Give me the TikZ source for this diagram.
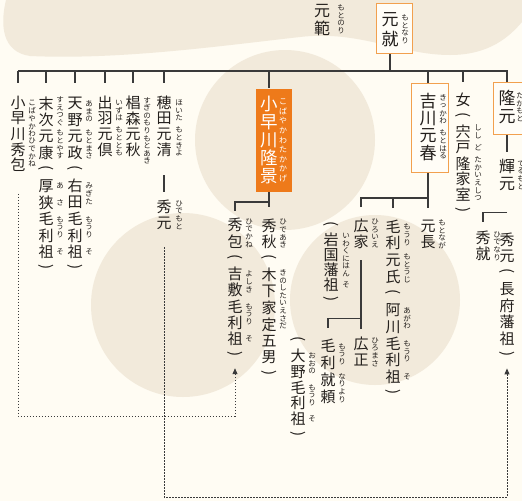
\documentclass[tikz,border=0pt]{standalone}
\usepackage{fontspec}
\setmainfont{Noto Sans CJK JP}
\usepackage{graphicx}
\usetikzlibrary{arrows.meta}
\definecolor{cream}{HTML}{FFFCF3}
\definecolor{beige}{HTML}{F2EADB}
\definecolor{lnc}{HTML}{3A3A3A}
\definecolor{ink}{HTML}{231F1C}
\definecolor{orng}{HTML}{EE7A1A}
\definecolor{obord}{HTML}{F2A04E}
\definecolor{boxbg}{HTML}{FFFDF7}
\newdimen\vtp
\def\vtstop{\vtstop}
\def\vtbox#1{\vbox to\vtp{\vss\hbox to 1em{\hss#1\hss}\vss}}
\def\vtparen#1{\vbox to\vtp{\vss\hbox to 1em{\hss\rotatebox[origin=c]{-90}{#1}\hss}\vss}}
\def\vtloop#1{%
  \ifx#1\vtstop\else
    \ifx#1(\vtparen{(}\else
    \ifx#1)\vtparen{)}\else
      \vtbox{#1}%
    \fi\fi
    \expandafter\vtloop
  \fi}
\newcommand\vt[2]{\vbox{\offinterlineskip\vtp=#1pt\relax\vtloop#2\vtstop}}
\newcommand\rb[4]{\node[rb] (#1) at (#2,#3) {\vt{7.6}{#4}};}
\begin{document}
\begin{tikzpicture}[x=1pt,y=-1pt,
  ln/.style={draw=lnc, line width=1.1pt},
  thick ln/.style={draw=lnc, line width=1.7pt},
  adopt/.style={draw=lnc, line width=0.75pt, double=#1, double distance=1.2pt},
  dotl/.style={draw=lnc, line width=0.9pt, dash pattern=on 1.4pt off 1.6pt},
  nm/.style={inner sep=0pt, text=ink, anchor=north, font=\fontsize{15}{15}\selectfont},
  big/.style={nm, font=\fontsize{17}{17}\selectfont},
  rb/.style={inner sep=0pt, text=ink, font=\fontsize{7.5}{7.5}\selectfont},
  obox/.style={draw=obord, line width=1.3pt, fill=boxbg, anchor=north west, inner sep=0pt},
  tip/.style={-{Triangle[width=5pt,length=6pt]}}
]
\useasboundingbox (0,0) rectangle (522,501);
\clip (0,0) rectangle (522,501);
% background
\fill[cream] (0,0) rectangle (522,501);
\fill[beige] (6,0) .. controls (0,25) and (2,52) .. (30,56) .. controls (120,60) and (220,46) .. (300,37) .. controls (360,30) and (400,55) .. (450,55) .. controls (490,55) and (510,36) .. (522,22) -- (522,0) -- cycle;
\fill[beige] (285,140) circle[radius=90pt];
\fill[beige] (183,305) circle[radius=92pt];
\fill[beige] (375,300) circle[radius=85pt];

% top
\node[nm, font=\fontsize{16}{16}\selectfont] (motonori) at (322,3) {\vt{16.5}{元範}};
\rb{motonoriR}{341}{3+16.5}{もとのり}
\node[obox, minimum width=36pt, minimum height=50pt] (motonari) at (376,3) {};
\node[big] (motonariT) at (390,10) {\vt{19}{元就}};
\rb{motonariR}{405}{10+19}{もとなり}

% left group
\node[nm] (kobayashi) at (18,95) {\vt{15.5}{小早川秀包}};
\rb{kobayashiR}{32}{95+15.5*2.5}{こばやかわひでかね}
\node[nm] (motoyasu) at (46,95) {\vt{16.5}{末次元康(厚狭毛利祖)}};
\rb{motoyasuR1}{60}{95+16.5*1}{すえつぐ}
\rb{motoyasuR2}{60}{95+16.5*3}{もとやす}
\rb{motoyasuR3}{60}{95+16.5*5.5}{あ}
\rb{motoyasuR4}{60}{95+16.5*6.5}{さ}
\rb{motoyasuR5}{60}{95+16.5*8}{もうり}
\rb{motoyasuR6}{60}{95+16.5*9.5}{そ}
\node[nm] (motomasa) at (75,95) {\vt{16.5}{天野元政(右田毛利祖)}};
\rb{motomasaR1}{89}{95+16.5*1}{あまの}
\rb{motomasaR2}{89}{95+16.5*3}{もとまさ}
\rb{motomasaR3}{89}{95+16.5*6}{みぎた}
\rb{motomasaR4}{89}{95+16.5*8}{もうり}
\rb{motomasaR5}{89}{95+16.5*9.5}{そ}
\node[nm] (izuha) at (105,95) {\vt{15.5}{出羽元倶}};
\rb{izuhaR1}{119}{95+15.5*1}{いずは}
\rb{izuhaR2}{119}{95+15.5*3}{もととも}
\node[nm] (sugimori) at (133,95) {\vt{15.5}{椙森元秋}};
\rb{sugimoriR}{147}{95+15.5*2.3}{すぎのもりもとあき}
\node[nm] (hota) at (164,95) {\vt{15.5}{穂田元清}};
\rb{hotaR1}{179}{95+15.5*1}{ほいた}
\rb{hotaR2}{179}{95+15.5*3}{もときよ}
\node[nm] (hidemoto) at (164,199) {\vt{16}{秀元}};
\rb{hidemotoR}{179}{199+16}{ひでもと}

% Kobayakawa Takakage
\node[obox, draw=none, fill=orng, minimum width=36pt, minimum height=103pt] (takakage) at (255,88) {};
\node[nm, text=white, font=\fontsize{17.5}{17.5}\selectfont] (takakageT) at (269,95) {\vt{18}{小早川隆景}};
\node[rb, text=white, font=\fontsize{8}{8}\selectfont] (takakageR) at (283,95+18*2.5) {\vt{9.6}{こばやかわたかかげ}};
\node[nm] (hideaki) at (269,217) {\vt{16.5}{秀秋(木下家定五男)}};
\rb{hideakiR1}{283}{217+16.5*1}{ひであき}
\rb{hideakiR2}{283}{217+16.5*5}{きのしたいえさだ}
\node[nm] (hidekane) at (235,217) {\vt{16.2}{秀包(吉敷毛利祖)}};
\rb{hidekaneR1}{249}{217+16.2*1}{ひでかね}
\rb{hidekaneR2}{249}{217+16.2*4}{よしき}
\rb{hidekaneR3}{249}{217+16.2*6}{もうり}
\rb{hidekaneR4}{249}{217+16.2*7.5}{そ}

% Kikkawa
\node[obox, minimum width=37pt, minimum height=89pt] (kikkawa) at (411,83) {};
\node[big] (kikkawaT) at (428,92) {\vt{17.5}{吉川元春}};
\rb{kikkawaR1}{443}{92+17.5*1}{きっかわ}
\rb{kikkawaR2}{443}{92+17.5*3}{もとはる}
\node[nm] (hiroie) at (361,217) {\vt{16.5}{広家}};
\rb{hiroieR}{375}{217+16.5}{ひろいえ}
\node[nm] (hiroieB) at (331,217) {\vt{15}{(岩国藩祖)}};
\rb{hiroieBR1}{346}{217+15*2}{いわくに}
\rb{hiroieBR2}{346}{217+15*3.5}{はん}
\rb{hiroieBR3}{346}{217+15*4.5}{そ}
\node[nm] (motouji) at (393,218) {\vt{16.7}{毛利元氏(阿川毛利祖)}};
\rb{motoujiR1}{407}{218+16.7*1}{もうり}
\rb{motoujiR2}{407}{218+16.7*3}{もとうじ}
\rb{motoujiR3}{407}{218+16.7*6}{あがわ}
\rb{motoujiR4}{407}{218+16.7*8}{もうり}
\rb{motoujiR5}{407}{218+16.7*9.5}{そ}
\node[nm] (motonaga) at (428,218) {\vt{16}{元長}};
\rb{motonagaR}{442}{218+16}{もとなが}
\node[nm] (hiromasa) at (361,336) {\vt{16}{広正}};
\rb{hiromasaR}{375}{336+16}{ひろまさ}
\node[nm] (nariyori) at (328,337) {\vt{17}{毛利就頼}};
\rb{nariyoriR1}{342}{337+17}{もうり}
\rb{nariyoriR2}{342}{337+17*3}{なりより}
\node[nm] (oono) at (298,332) {\vt{15.8}{(大野毛利祖)}};
\rb{oonoR1}{312}{332+15.8*2}{おおの}
\rb{oonoR2}{312}{332+15.8*4}{もうり}
\rb{oonoR3}{312}{332+15.8*5.5}{そ}

% daughter
\node[nm] (onna) at (463,92) {\vt{15.8}{女(宍戸隆家室)}};
\rb{onnaR1}{478}{92+15.8*2.5}{しし}
\rb{onnaR2}{478}{92+15.8*3.5}{ど}
\rb{onnaR3}{478}{92+15.8*5}{たかいえ}
\rb{onnaR4}{478}{92+15.8*6.5}{しつ}

% Takamoto line
\node[obox, minimum width=40pt, minimum height=52pt] (takamoto) at (493,82) {};
\node[big] (takamotoT) at (507,89) {\vt{18}{隆元}};
\rb{takamotoR}{520}{89+18}{たかもと}
\node[nm, font=\fontsize{16}{16}\selectfont] (terumoto) at (507,158) {\vt{17}{輝元}};
\rb{terumotoR}{521}{158+17}{てるもと}
\node[nm] (hidenari) at (483,230) {\vt{16}{秀就}};
\rb{hidenariR}{497}{230+16}{ひでなり}
\node[nm] (chofu) at (507,231) {\vt{16.5}{秀元(長府藩祖)}};

% connectors
\coordinate (mL) at (0,71);
\coordinate (kb) at (428,198);
\coordinate (b1) at (0,416);
\coordinate (b2) at (0,497);
\draw[ln] (motonari.south -| motonariT) -- (motonariT |- mL);
\draw[ln] (kobayashi.north |- mL) -- (takamotoT.north |- mL) -- (takamotoT.north |- takamoto.north);
\foreach \n in {kobayashi,motoyasu,motomasa,izuha,sugimori,hota}
  \draw[ln] (\n.north |- mL) -- ++(0,12);
\draw[ln] (onna.north |- mL) -- ++(0,11);
\draw[ln] (takakageT.north |- mL) -- (takakageT.north |- takakage.north);
\draw[ln] (kikkawaT.north |- mL) -- (kikkawaT.north |- kikkawa.north);
\draw[ln] ([yshift=-18pt]hota.south) -- ([yshift=7pt]hidemoto.north);
% Takakage adoptees
\draw[thick ln] (takakage.south -| hideaki) -- ([yshift=10pt]hideaki.north);
\draw[thick ln] (takakage.south -| hideaki) ++(0,10) -| ([yshift=6pt]hidekane.north);
% Kikkawa children
\draw[ln] (kikkawa.south -| motonaga) -- ([yshift=10pt]motonaga.north);
\draw[ln] ([yshift=10pt]hiroie.north) |- (kb);
\draw[ln] ([yshift=10pt]motouji.north) -- (motouji.north |- kb);
\draw[ln] ([yshift=-10pt]hiroie.south) -- ([yshift=7pt]hiromasa.north);
\draw[ln] ([yshift=-68pt]hiroie.south) -| ([yshift=9pt]nariyori.north);
% Takamoto line
\draw[ln] (takamoto.south -| terumoto) -- ([yshift=6pt]terumoto.north);
\draw[adopt=cream] ([yshift=-9pt]terumoto.south) -- ([yshift=7pt]chofu.north);
\draw[ln] ([yshift=-20pt]terumoto.south) -| ([yshift=8pt]hidenari.north);
% dotted cross references
\draw[dotl, tip] ([yshift=-21pt]kobayashi.south) |- (hidekane.south |- b1) -- ([yshift=-5pt]hidekane.south);
\draw[dotl, tip] ([yshift=-16pt]hidemoto.south) |- (chofu.south |- b2) -- ([yshift=-5pt]chofu.south);
\end{tikzpicture}
\end{document}
